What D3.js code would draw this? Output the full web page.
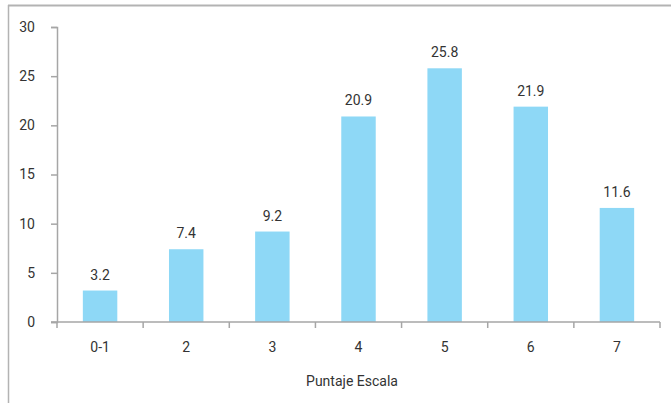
<!DOCTYPE html>
<html>
<head>
<meta charset="utf-8">
<script src="https://cdn.jsdelivr.net/npm/d3@7"></script>
<style>
html,body{margin:0;padding:0;background:#fff;}
svg{display:block;}
text{font-family:Roboto,"Noto Sans",sans-serif;}
</style>
</head>
<body>
<svg id="chart" width="671" height="403"></svg>
<script>
const categories = ["0-1","2","3","4","5","6","7"];
const values = [3.2, 7.4, 9.2, 20.9, 25.8, 21.9, 11.6];
const yTicks = [0,5,10,15,20,25,30];
const xTitle = "Puntaje Escala";

const svg = d3.select("#chart");
const W = 671, H = 403;
const mLeft = 57, mRight = 660, mTop = 27, mBottom = 322;

// frame (top and left)
svg.append("line").attr("x1",8).attr("x2",W).attr("y1",5.5).attr("y2",5.5)
  .attr("stroke","#b3b3b3").attr("stroke-width",2);
svg.append("line").attr("x1",8.5).attr("x2",8.5).attr("y1",5).attr("y2",H)
  .attr("stroke","#b3b3b3").attr("stroke-width",1.5);

const x = d3.scaleBand().domain(categories).range([mLeft,mRight]).paddingInner(0.6).paddingOuter(0.3);
const y = d3.scaleLinear().domain([0,30]).range([mBottom,mTop]);

// y axis
const yAxis = svg.append("g").attr("transform",`translate(${mLeft},0)`)
  .call(d3.axisLeft(y).tickValues(yTicks).tickSize(6).tickPadding(16).tickFormat(d3.format("d")));
yAxis.select(".domain").attr("stroke","#a6a6a6").attr("stroke-width",1.5);
yAxis.selectAll(".tick line").attr("stroke","#a6a6a6").attr("stroke-width",1.5);
yAxis.selectAll(".tick text").attr("fill","#333").style("font-size","14px").style("font-family","Roboto");

// bars
svg.append("g").selectAll("rect").data(values).join("rect")
  .attr("x",(d,i)=>x(categories[i]))
  .attr("y",d=>y(d))
  .attr("width",x.bandwidth())
  .attr("height",d=>y(0)-y(d))
  .attr("fill","#8ed8f6");

// value labels
svg.append("g").selectAll("text").data(values).join("text")
  .attr("x",(d,i)=>x(categories[i])+x.bandwidth()/2)
  .attr("y",d=>y(d)-11)
  .attr("text-anchor","middle")
  .attr("fill","#333")
  .style("font-size","14px")
  .text(d=>d3.format(".1f")(d));

// x axis line
svg.append("line").attr("x1",mLeft-6).attr("x2",mRight).attr("y1",mBottom).attr("y2",mBottom)
  .attr("stroke","#a6a6a6").attr("stroke-width",1.5);
// x boundary ticks
const step = x.step();
const bounds = d3.range(categories.length+1).map(i=> i===0 ? mLeft : (i===categories.length ? mRight : x(categories[i]) - (step - x.bandwidth())/2));
svg.append("g").selectAll("line").data(bounds).join("line")
  .attr("x1",d=>d).attr("x2",d=>d).attr("y1",mBottom).attr("y2",mBottom+6)
  .attr("stroke","#a6a6a6").attr("stroke-width",1.5);
// x labels
svg.append("g").selectAll("text").data(categories).join("text")
  .attr("x",d=>x(d)+x.bandwidth()/2)
  .attr("y",352)
  .attr("text-anchor","middle")
  .attr("fill","#333")
  .style("font-size","14px")
  .text(d=>d);

svg.append("text").attr("x",352).attr("y",386).attr("text-anchor","middle")
  .attr("fill","#333").style("font-size","14px").text(xTitle);
</script>
</body>
</html>
